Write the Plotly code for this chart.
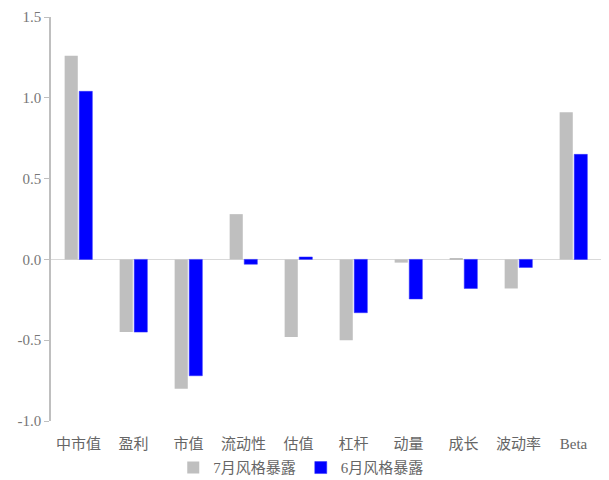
import plotly.graph_objects as go

categories = ["中市值", "盈利", "市值", "流动性", "估值", "杠杆", "动量", "成长", "波动率", "Beta"]
july = [1.26, -0.45, -0.80, 0.28, -0.48, -0.50, -0.02, 0.005, -0.18, 0.91]
june = [1.04, -0.45, -0.72, -0.03, 0.015, -0.33, -0.245, -0.18, -0.05, 0.65]
series_names = ["7月风格暴露", "6月风格暴露"]
y_ticks = [-1.0, -0.5, 0.0, 0.5, 1.0, 1.5]
y_tick_labels = ["-1.0", "-0.5", "0.0", "0.5", "1.0", "1.5"]

font_family = "Liberation Serif, Noto Sans CJK SC, serif"

fig = go.Figure()
fig.add_trace(go.Bar(x=categories, y=july, name=series_names[0],
                     marker=dict(color="#BFBFBF", line=dict(width=0))))
fig.add_trace(go.Bar(x=categories, y=june, name=series_names[1],
                     marker=dict(color="#0000FF", line=dict(color="#3030ff", width=0.5))))

fig.update_layout(
    width=609, height=480,
    margin=dict(l=51, r=8, t=17, b=59, autoexpand=False),
    paper_bgcolor="white", plot_bgcolor="white",
    barmode="group", bargap=0.47, bargroupgap=0.1,
    font=dict(family=font_family, color="#666666", size=14),
    showlegend=True,
    legend=dict(orientation="h", x=0.455, xanchor="center", y=-0.075, yanchor="top",
                font=dict(size=15, color="#666666"), itemwidth=30,
                traceorder="normal", tracegroupgap=0),
    xaxis=dict(showline=False, ticks="", showgrid=False, zeroline=False, automargin=False,
               ticklabelstandoff=12,
               tickfont=dict(size=15, color="#666666")),
    yaxis=dict(range=[-1.0, 1.5], tickvals=y_ticks, ticktext=y_tick_labels, automargin=False,
               showline=True, linecolor="#BFBFBF", linewidth=1.5,
               ticks="outside", ticklen=5, tickcolor="#BFBFBF",
               showgrid=False, zeroline=True, zerolinecolor="#D9D9D9", zerolinewidth=1,
               tickfont=dict(size=15, color="#777777")),
)

fig.write_html("out.html", config={"displayModeBar": False},
               post_script="document.body.style.margin='0';document.body.style.overflow='hidden';")
